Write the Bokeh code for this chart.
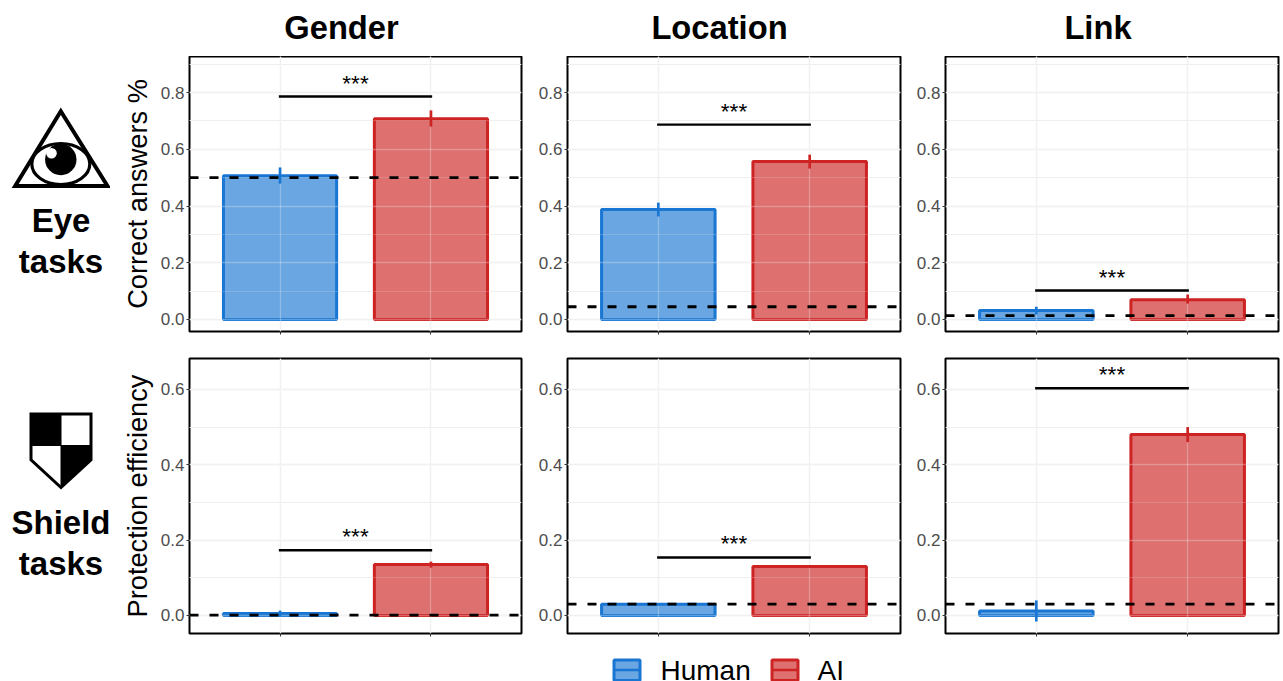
from bokeh.plotting import figure
from bokeh.models import Range1d, FixedTicker, Span, Grid
from bokeh.layouts import row, column
from bokeh.core.properties import value
from bokeh.embed import file_html
from bokeh.resources import INLINE

FONT = "Liberation Sans"
BLUE = "#1976D2"
RED = "#CD2323"

series = ["Human", "AI"]
positions = [1, 2]
columns = ["Gender", "Location", "Link"]
row_names = [["Eye", "tasks"], ["Shield", "tasks"]]
row_labels = ["Correct answers %", "Protection efficiency"]

eye_human = [0.507, 0.388, 0.032]
eye_ai = [0.708, 0.557, 0.070]
eye_human_lo = [0.479, 0.363, 0.018]
eye_human_hi = [0.536, 0.412, 0.045]
eye_ai_lo = [0.680, 0.532, 0.056]
eye_ai_hi = [0.737, 0.581, 0.088]
eye_chance = [0.500, 0.045, 0.014]
eye_bracket = [0.786, 0.687, 0.102]

shield_human = [0.005, 0.030, 0.012]
shield_ai = [0.135, 0.130, 0.480]
shield_human_lo = [-0.003, 0.026, -0.016]
shield_human_hi = [0.013, 0.033, 0.040]
shield_ai_lo = [0.127, 0.126, 0.460]
shield_ai_hi = [0.143, 0.134, 0.500]
shield_chance = [0.001, 0.030, 0.030]
shield_bracket = [0.173, 0.154, 0.603]

eye_major = [0.0, 0.2, 0.4, 0.6, 0.8]
eye_minor = [0.1, 0.3, 0.5, 0.7, 0.9]
shield_major = [0.0, 0.2, 0.4, 0.6]
shield_minor = [0.1, 0.3, 0.5]


def panel(col, human, ai, h_lo, h_hi, a_lo, a_hi, chance, bracket, y_range, major, minor,
          width, height, left, right, top, bottom, ylabel=None):
    p = figure(width=width, height=height, output_backend="svg", toolbar_location=None,
               x_range=Range1d(0.4, 2.6), y_range=Range1d(*y_range),
               min_border_left=left, min_border_right=right,
               min_border_top=top, min_border_bottom=bottom,
               background_fill_color="white", border_fill_color="white",
               outline_line_color="black", outline_line_width=2)
    p.xaxis.ticker = FixedTicker(ticks=positions)
    p.xaxis.major_label_overrides = {1: "", 2: ""}
    p.yaxis.ticker = FixedTicker(ticks=major, minor_ticks=minor)
    p.yaxis.major_label_overrides = {v: f"{v:.1f}" for v in major}
    for ax in (p.xaxis[0], p.yaxis[0]):
        ax.axis_line_color = None
        ax.minor_tick_line_color = None
        ax.major_tick_in = 0
        ax.major_tick_out = 3
        ax.major_tick_line_color = "#333333"
        ax.major_tick_line_width = 1
        ax.major_label_text_color = "#4D4D4D"
        ax.major_label_text_font = FONT
        ax.major_label_text_font_size = "17px"
        ax.major_label_standoff = 1
    if ylabel:
        p.yaxis.axis_label = ylabel
        p.yaxis.axis_label_text_font = FONT
        p.yaxis.axis_label_text_font_style = "normal"
        p.yaxis.axis_label_text_font_size = "27.2px"
        p.yaxis.axis_label_text_color = "black"
        p.yaxis.axis_label_standoff = 5
    for g in (p.xgrid[0], p.ygrid[0]):
        g.grid_line_color = "#EBEBEB"
        g.grid_line_width = 1.3
    p.ygrid[0].minor_grid_line_color = "#EBEBEB"
    p.ygrid[0].minor_grid_line_width = 1

    p.vbar(x=[positions[0]], top=[human], bottom=0, width=0.75, fill_color=BLUE, fill_alpha=0.65,
           line_color=BLUE, line_width=3)
    p.vbar(x=[positions[1]], top=[ai], bottom=0, width=0.75, fill_color=RED, fill_alpha=0.65,
           line_color=RED, line_width=3)
    # the reference's gridlines show through the bars as lighter stripes
    p.add_layout(Grid(dimension=0, ticker=FixedTicker(ticks=positions), grid_line_color="white",
                      grid_line_alpha=0.3, grid_line_width=1.3, level="guide"))
    p.add_layout(Grid(dimension=1, ticker=FixedTicker(ticks=major, minor_ticks=minor),
                      grid_line_color="white", grid_line_alpha=0.3, grid_line_width=1.3,
                      minor_grid_line_color="white", minor_grid_line_alpha=0.2,
                      minor_grid_line_width=1, level="guide"))
    p.segment(x0=[positions[0]], x1=[positions[0]], y0=[h_lo], y1=[h_hi], line_color=BLUE,
              line_width=2.7, level="annotation")
    p.segment(x0=[positions[1]], x1=[positions[1]], y0=[a_lo], y1=[a_hi], line_color=RED,
              line_width=2.7, level="annotation")
    p.add_layout(Span(location=chance, dimension="width", line_color="black", line_width=2.8,
                      line_dash="9 11", level="overlay"))
    p.segment(x0=[positions[0]], x1=[positions[1]], y0=[bracket], y1=[bracket], line_color="black",
              line_width=2.4, line_cap="square", level="annotation")
    p.text(x=[1.5], y=[bracket], text=["***"], text_align="center", text_baseline="bottom",
           text_font=value(FONT), text_font_size="22.5px", text_color="black", y_offset=-1,
           level="annotation")
    return p


def strip(y0, y1, top, bottom):
    p = figure(width=110, height=y1 - y0 + top + bottom, output_backend="svg", toolbar_location=None,
               x_range=Range1d(0, 110), y_range=Range1d(y1, y0),
               min_border=0, min_border_left=0, min_border_right=0, min_border_top=top,
               min_border_bottom=bottom, outline_line_color=None, border_fill_color="white",
               background_fill_color="white")
    p.axis.visible = False
    p.grid.visible = False
    return p


def band(y0, y1):
    p = figure(width=1283, height=y1 - y0, output_backend="svg", toolbar_location=None,
               x_range=Range1d(0, 1283), y_range=Range1d(y1, y0), min_border=0, min_border_left=0,
               min_border_right=0, min_border_top=0, min_border_bottom=0, outline_line_color=None,
               border_fill_color="white", background_fill_color="white")
    p.axis.visible = False
    p.grid.visible = False
    return p


def caption(p, lines, bottoms):
    p.text(x=[60.5] * 2, y=bottoms, text=lines, text_align="center", text_baseline="bottom",
           text_font=value(FONT), text_font_size="33px", text_font_style="bold", text_color="black")


# column titles
head = band(0, 56)
head.text(x=[341, 719, 1097.5], y=[45, 45, 45], text=columns, text_align="center", text_baseline="bottom",
          text_font=value(FONT), text_font_size="32.7px", text_font_style="bold", text_color="black")

# row 1 strip: all-seeing eye
s1 = strip(56, 331, 0, 14)
s1.patch([60.3, 107, 14.7], [110.8, 185.5, 185.5], fill_color="white", line_color="black", line_width=4,
         line_join="miter")
s1.ellipse(x=[60.3], y=[163.5], width=[58], height=[41], fill_color="white", line_color="black",
           line_width=3.2)
s1.circle(x=[60.3], y=[159], radius=15.7, fill_color="black", line_color=None)
s1.circle(x=[51], y=[152.7], radius=5.3, fill_color="white", line_color=None)
caption(s1, row_names[0], [238, 279])

# row 2 strip: shield
s2 = strip(358, 633, 13, 12)
s2.patch([30.5, 90.5, 90.5, 60.5, 30.5], [413.5, 413.5, 459.3, 487, 459.3], fill_color="white",
         line_color="black", line_width=3, line_join="miter")
s2.patch([30.5, 60.5, 60.5, 30.5], [413.5, 413.5, 445, 445], fill_color="black", line_color="black",
         line_width=1)
s2.patch([60.5, 90.5, 90.5, 60.5], [445, 445, 459.3, 487], fill_color="black", line_color="black",
         line_width=1)
caption(s2, row_names[1], [540, 581])

top_w = [(413, 79, 2), (379, 44, 2), (381, 43, 5)]
top_panels = []
bottom_panels = []
for c in range(3):
    w, l, r = top_w[c]
    top_panels.append(panel(c, eye_human[c], eye_ai[c], eye_human_lo[c], eye_human_hi[c], eye_ai_lo[c],
                            eye_ai_hi[c], eye_chance[c], eye_bracket[c], (-0.0423, 0.927), eye_major,
                            eye_minor, w, 289, l, r, 0, 14,
                            ylabel=row_labels[0] if c == 0 else None))
    bottom_panels.append(panel(c, shield_human[c], shield_ai[c], shield_human_lo[c], shield_human_hi[c],
                               shield_ai_lo[c], shield_ai_hi[c], shield_chance[c], shield_bracket[c],
                               (-0.0478, 0.682), shield_major, shield_minor, w, 300, l, r, 13, 12,
                               ylabel=row_labels[1] if c == 0 else None))

# legend strip
lg = band(645, 681)
for x0, x1, col, name, tx in [(613.5, 639.5, BLUE, series[0], 660), (771.5, 797.5, RED, series[1], 817)]:
    lg.quad(left=[x0], right=[x1], top=[659.5], bottom=[680], fill_color=col, fill_alpha=0.65,
            line_color=col, line_width=3)
    lg.segment(x0=[x0], x1=[x1], y0=[669.5], y1=[669.5], line_color=col, line_width=2.5)
    lg.text(x=[tx], y=[681], text=[name], text_align="left", text_baseline="bottom",
            text_font=value(FONT), text_font_size="28px", text_color="black", y_offset=4)

page = column(head, row(s1, *top_panels), row(s2, *bottom_panels), lg, spacing=0)
open("out.html", "w").write(file_html(page, INLINE))
